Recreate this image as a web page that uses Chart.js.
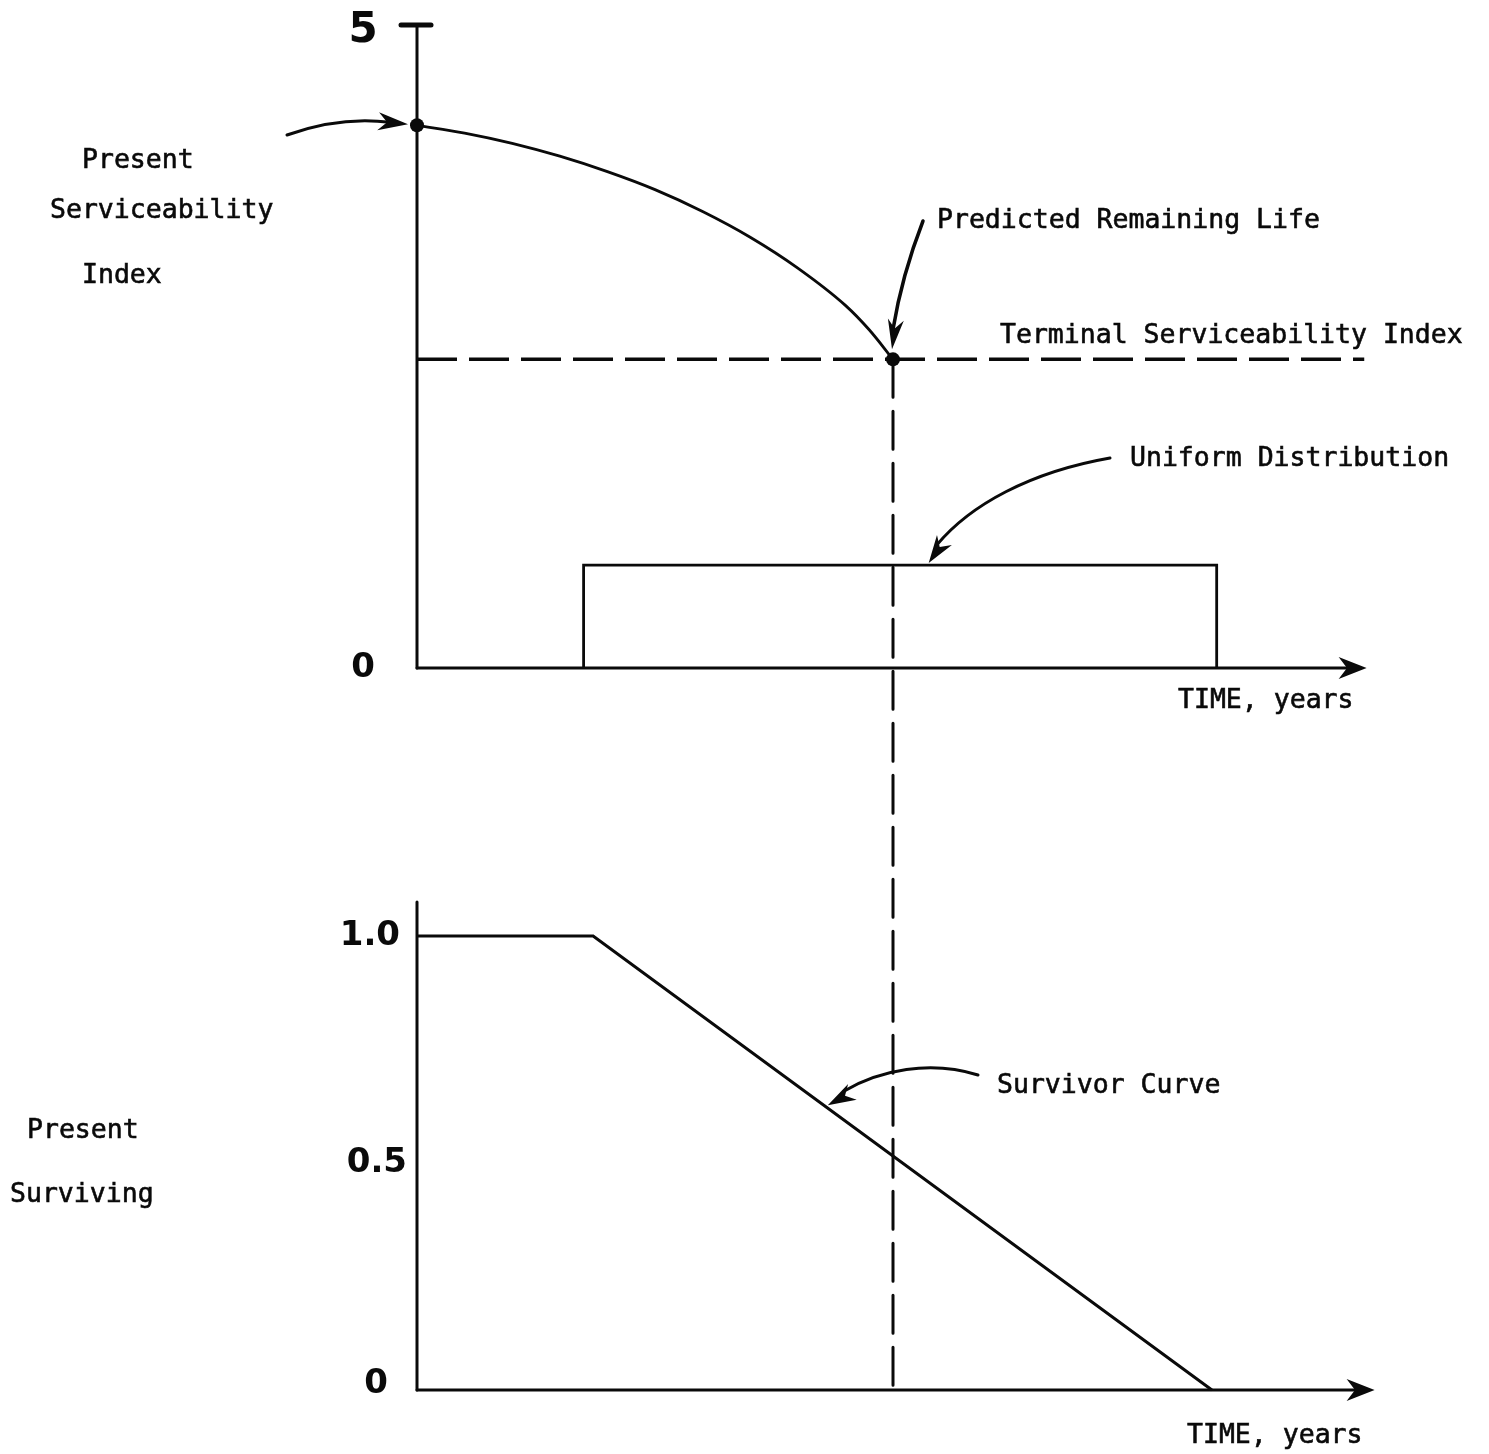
<!DOCTYPE html>
<html>
<head>
<meta charset="utf-8">
<script src="https://cdn.jsdelivr.net/npm/chart.js@4.4.1/dist/chart.umd.min.js"></script>
<style>
  html, body { margin: 0; padding: 0; background: #ffffff; }
  #wrap { position: relative; width: 1489px; height: 1454px; }
  canvas { display: block; }
</style>
</head>
<body>
<div id="wrap"><canvas id="c" width="1489" height="1454"></canvas></div>
<script>
// ---------------- DATA ----------------
// Time axis (years)
const timeMin = 0;
const timeMax = 20;
const predictedLife = 10;          // predicted remaining life, years

// Top panel: present serviceability index curve
const psiYears  = [0, 1, 2, 3, 4, 5, 6, 7, 8, 9, 9.5, 10];
const psiValues = [4.22, 4.16, 4.08, 3.98, 3.86, 3.72, 3.55, 3.35, 3.11, 2.82, 2.63, 2.40];
const terminalPSI = 2.4;
const terminalYears = [0, 19.9];

// Uniform distribution of remaining life
const uniformYears  = [3.5, 3.5, 16.8, 16.8];
const uniformValues = [0, 0.8, 0.8, 0];

// Bottom panel: survivor curve (fraction surviving)
const survivorYears  = [0, 3.7, 16.7];
const survivorValues = [1.0, 1.0, 0];

// Tick labels
const topTicks = [0, 5];
const topTickLabels = ['0', '5'];
const bottomTicks = [0, 0.5, 1.0];
const bottomTickLabels = ['0', '0.5', '1.0'];

// ---------------- LAYOUT ----------------
const W = 1489, H = 1454;
const PAD = { left: 417, right: 120, top: 25, bottom: 64 };
const areaH = H - PAD.top - PAD.bottom;
const topZeroPx = 668;     // where PSI = 0 sits
const botOnePx = 936;      // where surviving = 1.0 sits
const topMax = 5;
const topMin = topMax - areaH * topMax / (topZeroPx - PAD.top);
const botMin = 0;
const botMax = areaH / ((H - PAD.bottom) - botOnePx);

const FONT = '26.5px "DejaVu Sans Mono", "Liberation Mono", monospace';
const TICKFONT = 'bold 34px "DejaVu Sans", Lato, sans-serif';
const INK = '#0a0a0a';

function xy(xs, ys) { return xs.map((x, i) => ({ x: x, y: ys[i] })); }

function arrowHead(ctx, tx, ty, ang, len, half) {
  ctx.save();
  ctx.translate(tx, ty);
  ctx.rotate(ang);
  ctx.beginPath();
  ctx.moveTo(0, 0);
  ctx.lineTo(-len, -half);
  ctx.lineTo(-len * 0.7, 0);
  ctx.lineTo(-len, half);
  ctx.closePath();
  ctx.fill();
  ctx.restore();
}

function interp(xs, ys, x) {
  for (let i = 0; i < xs.length - 1; i++) {
    if (x >= xs[i] && x <= xs[i + 1]) {
      const t = (x - xs[i]) / (xs[i + 1] - xs[i]);
      return ys[i] + t * (ys[i + 1] - ys[i]);
    }
  }
  return ys[ys.length - 1];
}

const decor = {
  id: 'decor',
  afterDatasetsDraw(chart) {
    const ctx = chart.ctx;
    const sx = chart.scales.x, st = chart.scales.yTop, sb = chart.scales.yBot;
    const x0 = sx.getPixelForValue(0);
    const xEnd = sx.getPixelForValue(19.95);
    ctx.save();
    ctx.strokeStyle = INK;
    ctx.fillStyle = INK;
    ctx.lineCap = 'round';

    // ---- vertical dashed line at predicted life ----
    const xp = sx.getPixelForValue(predictedLife);
    ctx.lineWidth = 3;
    ctx.setLineDash([38, 14]);
    ctx.beginPath();
    ctx.moveTo(xp, st.getPixelForValue(terminalPSI));
    ctx.lineTo(xp, sb.getPixelForValue(0));
    ctx.stroke();
    ctx.setLineDash([]);

    // ---- top axes ----
    ctx.lineWidth = 3;
    ctx.beginPath();
    ctx.moveTo(x0, st.getPixelForValue(0));
    ctx.lineTo(x0, st.getPixelForValue(5));
    ctx.stroke();
    ctx.lineWidth = 5;
    ctx.beginPath();
    ctx.moveTo(x0 - 16, st.getPixelForValue(5));
    ctx.lineTo(x0 + 14, st.getPixelForValue(5));
    ctx.stroke();
    ctx.lineWidth = 3;
    const yt0 = st.getPixelForValue(0);
    ctx.beginPath();
    ctx.moveTo(x0, yt0);
    ctx.lineTo(xEnd - 6, yt0);
    ctx.stroke();
    arrowHead(ctx, xEnd, yt0, 0, 28, 11);

    // ---- bottom axes ----
    const yb0 = sb.getPixelForValue(0);
    ctx.beginPath();
    ctx.moveTo(x0, yb0);
    ctx.lineTo(x0, sb.getPixelForValue(1.075));
    ctx.stroke();
    ctx.beginPath();
    ctx.moveTo(x0, yb0);
    ctx.lineTo(xEnd, yb0);
    ctx.stroke();
    arrowHead(ctx, xEnd + 8, yb0, 0, 28, 11);

    // ---- tick labels ----
    ctx.textBaseline = 'middle';
    ctx.textAlign = 'center';
    topTicks.forEach((v, i) => {
      const big = v === 5;
      ctx.font = big ? 'bold 42px "DejaVu Sans", Lato, sans-serif' : TICKFONT;
      ctx.fillText(topTickLabels[i], x0 - 54, st.getPixelForValue(v) + (big ? 6 : 0));
    });
    ctx.textAlign = 'right';
    ctx.font = TICKFONT;
    bottomTicks.forEach((v, i) => {
      const dx = v === 0 ? -29 : (v === 0.5 ? -10 : -17);
      ctx.fillText(bottomTickLabels[i], x0 + dx, sb.getPixelForValue(v) - (v === 0 ? 6 : 0));
    });

    // ---- markers ----
    [[0, psiValues[0]], [predictedLife, terminalPSI]].forEach(p => {
      ctx.beginPath();
      ctx.arc(sx.getPixelForValue(p[0]), st.getPixelForValue(p[1]), 7, 0, Math.PI * 2);
      ctx.fill();
    });

    // ---- text ----
    ctx.font = FONT;
    ctx.textAlign = 'left';
    ctx.textBaseline = 'alphabetic';
    ctx.lineWidth = 0.6;
    ctx.lineCap = 'butt';
    const texts = [
      ['Present', 82, 168], ['Serviceability', 50, 218], ['Index', 82, 283],
      ['Predicted Remaining Life', 937, 228],
      ['Terminal Serviceability Index', 1000, 343],
      ['Uniform Distribution', 1130, 466],
      ['TIME, years', 1178, 708],
      ['Survivor Curve', 997, 1093],
      ['Present', 27, 1138], ['Surviving', 10, 1202],
      ['TIME, years', 1187, 1443]
    ];
    texts.forEach(t => { ctx.fillText(t[0], t[1], t[2]); ctx.strokeText(t[0], t[1], t[2]); });
    ctx.lineCap = 'round';

    // ---- annotation arrows ----
    ctx.lineWidth = 3;
    // top-left arrow to initial PSI
    let tx = x0 - 9, ty = st.getPixelForValue(psiValues[0]) - 1;
    ctx.beginPath();
    ctx.moveTo(287, 135);
    ctx.quadraticCurveTo(340, 116, tx - 18, ty - 2);
    ctx.stroke();
    arrowHead(ctx, tx, ty, Math.atan2(ty - 118, tx - 345), 30, 9);

    // predicted remaining life arrow
    tx = xp - 1; ty = st.getPixelForValue(terminalPSI) - 10;
    ctx.lineWidth = 3.5;
    ctx.beginPath();
    ctx.moveTo(923, 221);
    ctx.quadraticCurveTo(902, 275, tx + 1, ty - 20);
    ctx.stroke();
    arrowHead(ctx, tx, ty, Math.atan2(ty - 280, tx - 901), 30, 8);
    ctx.lineWidth = 3;

    // uniform distribution arrow
    tx = sx.getPixelForValue(10.75); ty = st.getPixelForValue(uniformValues[1]) - 2;
    ctx.beginPath();
    ctx.moveTo(1110, 458);
    ctx.bezierCurveTo(1030, 472, 970, 505, tx + 8, ty - 18);
    ctx.stroke();
    arrowHead(ctx, tx, ty, Math.atan2(ty - 520, tx - 958), 28, 9);

    // survivor curve arrow
    const sxv = 8.63;
    tx = sx.getPixelForValue(sxv); ty = sb.getPixelForValue(interp(survivorYears, survivorValues, sxv)) - 3;
    ctx.beginPath();
    ctx.moveTo(978, 1075);
    ctx.bezierCurveTo(930, 1060, 880, 1070, tx + 16, ty - 14);
    ctx.stroke();
    arrowHead(ctx, tx, ty, Math.atan2(ty - 1085, tx - 865), 28, 9);

    ctx.restore();
  }
};

const base = { borderColor: INK, pointRadius: 0, fill: false, clip: false };

new Chart(document.getElementById('c'), {
  type: 'line',
  data: {
    datasets: [
      Object.assign({}, base, { label: 'PSI', data: xy(psiYears, psiValues), yAxisID: 'yTop',
        borderWidth: 2.8, cubicInterpolationMode: 'monotone' }),
      Object.assign({}, base, { label: 'Terminal Serviceability Index',
        data: xy(terminalYears, terminalYears.map(() => terminalPSI)), yAxisID: 'yTop',
        borderWidth: 3.5, borderDash: [40, 12], tension: 0 }),
      Object.assign({}, base, { label: 'Uniform Distribution', data: xy(uniformYears, uniformValues),
        yAxisID: 'yTop', borderWidth: 2.8, tension: 0 }),
      Object.assign({}, base, { label: 'Survivor Curve', data: xy(survivorYears, survivorValues),
        yAxisID: 'yBot', borderWidth: 3, tension: 0 })
    ]
  },
  options: {
    responsive: false,
    animation: false,
    devicePixelRatio: 1,
    parsing: true,
    layout: { padding: PAD },
    plugins: { legend: { display: false }, tooltip: { enabled: false }, title: { display: false } },
    scales: {
      x: { type: 'linear', min: timeMin, max: timeMax, display: false },
      yTop: { type: 'linear', min: topMin, max: topMax, display: false, position: 'left' },
      yBot: { type: 'linear', min: botMin, max: botMax, display: false, position: 'left' }
    }
  },
  plugins: [decor]
});
</script>
</body>
</html>
